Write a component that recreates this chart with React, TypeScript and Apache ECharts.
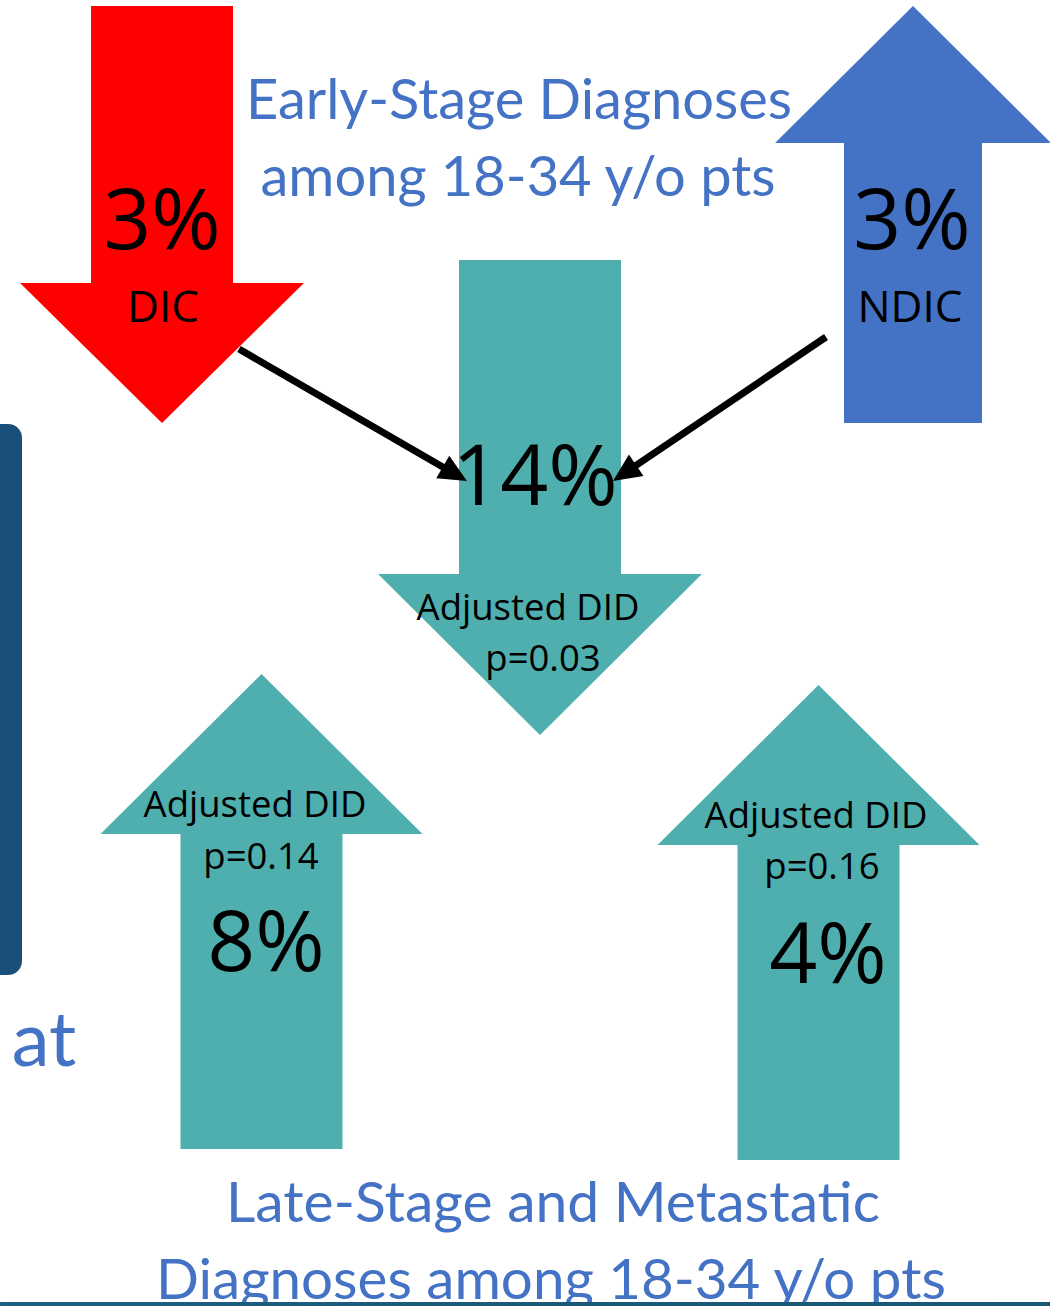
import React, { useEffect, useRef } from "react";
import * as echarts from "echarts";

// ---- data ----
const titleTop = ["Early-Stage Diagnoses", "among 18-34 y/o pts"];
const titleBottom = ["Late-Stage and Metastatic", "Diagnoses among 18-34 y/o pts"];
const groupNames = ["DIC", "NDIC"];
const groupChanges = [3, 3]; // % change in early-stage diagnoses
const didChanges = [14, 8, 4]; // adjusted DID %
const didPValues = ["0.03", "0.14", "0.16"];
const didLabel = "Adjusted DID";
const sideWord = "at";

// ---- styles ----
const RED = "#FF0000";
const BLUE = "#4472C4";
const TEAL = "#4FAEAE";
const NAVY = "#1A4F79";
const ARROW_FONT = "'Open Sans', 'Noto Sans', sans-serif";
const TITLE_FONT = "Lato, 'Noto Sans', sans-serif";

type ArrowGeom = { cx: number; shaftHalf: number; headHalf: number; tailY: number; headBaseY: number; tipY: number };

function blockArrow(g: ArrowGeom) {
  const { cx, shaftHalf, headHalf, tailY, headBaseY, tipY } = g;
  return [
    [cx - shaftHalf, tailY],
    [cx + shaftHalf, tailY],
    [cx + shaftHalf, headBaseY],
    [cx + headHalf, headBaseY],
    [cx, tipY],
    [cx - headHalf, headBaseY],
    [cx - shaftHalf, headBaseY],
  ];
}

function connector(x1: number, y1: number, tx: number, ty: number) {
  const dx = tx - x1;
  const dy = ty - y1;
  const len = Math.sqrt(dx * dx + dy * dy);
  const ux = dx / len;
  const uy = dy / len;
  const L = 28;
  const W = 26;
  const bx = tx - ux * L;
  const by = ty - uy * L;
  const nx = -uy;
  const ny = ux;
  return [
    { type: "line", shape: { x1, y1, x2: bx + ux * 2, y2: by + uy * 2 }, style: { stroke: "#000", lineWidth: 7 } },
    {
      type: "polygon",
      shape: { points: [[tx, ty], [bx + (nx * W) / 2, by + (ny * W) / 2], [bx - (nx * W) / 2, by - (ny * W) / 2]] },
      style: { fill: "#000" },
    },
  ];
}

function txt(text: string, x: number, y: number, size: number, color = "#000", font = ARROW_FONT) {
  return {
    type: "text",
    x,
    y,
    style: { text, fill: color, font: `${size}px ${font}`, textAlign: "center", textVerticalAlign: "middle" },
  };
}

export default function App() {
  const ref = useRef<HTMLDivElement>(null);
  useEffect(() => {
    if (!ref.current) return;
    const chart = echarts.init(ref.current, null, { renderer: "svg" });

    const redArrow: ArrowGeom = { cx: 162, shaftHalf: 71, headHalf: 142, tailY: 6, headBaseY: 283, tipY: 423 };
    const blueArrow: ArrowGeom = { cx: 913, shaftHalf: 69, headHalf: 138, tailY: 423, headBaseY: 143, tipY: 6 };
    const midArrow: ArrowGeom = { cx: 540, shaftHalf: 81, headHalf: 162, tailY: 260, headBaseY: 574, tipY: 735 };
    const leftArrow: ArrowGeom = { cx: 261.5, shaftHalf: 81, headHalf: 161, tailY: 1149, headBaseY: 834, tipY: 674 };
    const rightArrow: ArrowGeom = { cx: 818.5, shaftHalf: 81, headHalf: 161, tailY: 1160, headBaseY: 845, tipY: 685 };

    const graphic: any[] = [
      { type: "rect", shape: { x: 0, y: 0, width: 1050, height: 1308 }, style: { fill: "#fff" } },
      // side panel and word
      { type: "rect", shape: { x: -30, y: 424, width: 52, height: 551, r: 14 }, style: { fill: NAVY } },
      txt(sideWord, 44, 1036, 76, BLUE, TITLE_FONT),
      // block arrows
      { type: "polygon", shape: { points: blockArrow(redArrow) }, style: { fill: RED } },
      { type: "polygon", shape: { points: blockArrow(blueArrow) }, style: { fill: BLUE } },
      { type: "polygon", shape: { points: blockArrow(midArrow) }, style: { fill: TEAL } },
      { type: "polygon", shape: { points: blockArrow(leftArrow) }, style: { fill: TEAL } },
      { type: "polygon", shape: { points: blockArrow(rightArrow) }, style: { fill: TEAL } },
      // titles
      txt(titleTop[0], 519, 97, 56, BLUE, TITLE_FONT),
      txt(titleTop[1], 518, 174, 56, BLUE, TITLE_FONT),
      txt(titleBottom[0], 553, 1200, 57, BLUE, TITLE_FONT),
      txt(titleBottom[1], 551, 1277, 56.5, BLUE, TITLE_FONT),
      // group arrows
      txt(`${groupChanges[0]}%`, 162, 216, 84),
      txt(groupNames[0], 163, 305, 44),
      txt(`${groupChanges[1]}%`, 912, 216, 84),
      txt(groupNames[1], 910, 305, 44),
      // DID arrows
      txt(`${didChanges[0]}%`, 535, 472, 84),
      txt(didLabel, 528, 606, 36.5),
      txt(`p=${didPValues[0]}`, 543, 657, 36.5),
      txt(didLabel, 255, 803, 36.5),
      txt(`p=${didPValues[1]}`, 261, 855, 36.5),
      txt(`${didChanges[1]}%`, 266, 938, 84),
      txt(didLabel, 816, 814, 36.5),
      txt(`p=${didPValues[2]}`, 822, 865, 36.5),
      txt(`${didChanges[2]}%`, 828, 950, 84),
      // connectors
      ...connector(239, 349, 467, 481),
      ...connector(826, 337, 613, 481),
      // bottom rule
      { type: "rect", shape: { x: 0, y: 1302, width: 1050, height: 6 }, style: { fill: "#fff" } },
      {
        type: "rect",
        shape: { x: 0, y: 1302, width: 1050, height: 4 },
        style: {
          fill: new echarts.graphic.LinearGradient(0, 0, 1, 0, [
            { offset: 0, color: "#1E5E7E" },
            { offset: 1, color: "#1A5575" },
          ]),
        },
      },
    ];

    chart.setOption({ animation: false, graphic });
    return () => chart.dispose();
  }, []);
  return <div ref={ref} style={{ position: "absolute", left: 0, top: 0, width: 1050, height: 1308 }} />;
}
